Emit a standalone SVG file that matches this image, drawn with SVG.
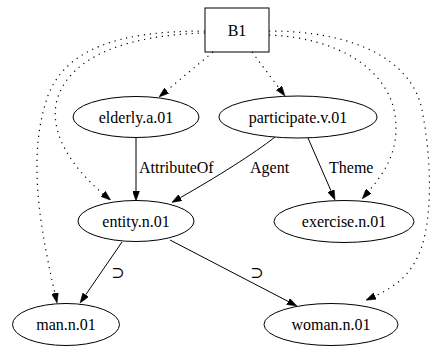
<svg xmlns="http://www.w3.org/2000/svg" width="430" height="347" viewBox="0 0 430 347">
  <style>
    text { font-family: "Liberation Serif", "Times New Roman", "DejaVu Serif", serif; font-size: 16px; fill: #000; }
    .node { fill: none; stroke: #000; stroke-width: 1; }
    .edge { fill: none; stroke: #000; stroke-width: 1; }
    .dotted { stroke-dasharray: 1.2 4.8; stroke-width: 1.2; }
    .mid { text-anchor: middle; }
    .sym { font-family: "DejaVu Serif", serif; font-size: 16px; }
  </style>
  <defs>
    <marker id="arrow" viewBox="0 0 10 7" refX="0" refY="3.5" markerWidth="10" markerHeight="7" markerUnits="userSpaceOnUse" orient="auto">
      <path d="M0,0 L10,3.5 L0,7 z" fill="#000" stroke="#000" stroke-width="0.5"/>
    </marker>
  </defs>
  <rect width="430" height="347" fill="#fff"/>

  <g id="edges">
    <!-- dotted edges out of B1 -->
    <path class="edge dotted" d="M213,52 L166.7,90.6" marker-end="url(#arrow)"/>
    <path class="edge dotted" d="M252,52 L279,88" marker-end="url(#arrow)"/>
    <path class="edge dotted" d="M205,33 C130,35 70,55 57,100 C48,135 75,170 103.1,193.8" marker-end="url(#arrow)"/>
    <path class="edge dotted" d="M205,31 C120,31 60,48 45,105 C27,165 43,240 54.9,293.2" marker-end="url(#arrow)"/>
    <path class="edge dotted" d="M269,35 C340,38 388,70 395,115 C400,150 385,172 368.7,191.2" marker-end="url(#arrow)"/>
    <path class="edge dotted" d="M269,31 C355,31 412,60 422,110 C432,160 434,230 415,262 C405,280 390,289 375,296" marker-end="url(#arrow)"/>

    <!-- semantic role edges -->
    <path class="edge" d="M136,138 L136,191" marker-end="url(#arrow)"/>
    <text x="139" y="173">AttributeOf</text>
    <path class="edge" d="M275,137 C255,153 215,178 180.4,197.6" marker-end="url(#arrow)"/>
    <text x="250" y="173">Agent</text>
    <path class="edge" d="M308,138 L331,190.8" marker-end="url(#arrow)"/>
    <text x="329" y="173">Theme</text>

    <!-- hyponym edges -->
    <path class="edge" d="M122,242 L85.7,294.8" marker-end="url(#arrow)"/>
    <text class="mid sym" x="118" y="278">⊃</text>
    <path class="edge" d="M170,240 L288.1,301.4" marker-end="url(#arrow)"/>
    <text class="mid sym" x="257" y="278">⊃</text>
  </g>

  <g id="B1">
    <rect class="node" x="205" y="8" width="64" height="44"/>
    <text class="mid" x="237" y="35.5">B1</text>
  </g>
  <g id="elderly.a.01">
    <ellipse class="node" cx="136" cy="117" rx="63" ry="20.5"/>
    <text class="mid" x="136" y="122.5">elderly.a.01</text>
  </g>
  <g id="participate.v.01">
    <ellipse class="node" cx="298" cy="117" rx="79" ry="21"/>
    <text class="mid" x="298" y="122.5">participate.v.01</text>
  </g>
  <g id="entity.n.01">
    <ellipse class="node" cx="136" cy="221" rx="58" ry="20.5"/>
    <text class="mid" x="136" y="226.5">entity.n.01</text>
  </g>
  <g id="exercise.n.01">
    <ellipse class="node" cx="344" cy="221.5" rx="70" ry="21"/>
    <text class="mid" x="344" y="227">exercise.n.01</text>
  </g>
  <g id="man.n.01">
    <ellipse class="node" cx="66" cy="324.5" rx="53.5" ry="21"/>
    <text class="mid" x="66" y="330">man.n.01</text>
  </g>
  <g id="woman.n.01">
    <ellipse class="node" cx="331" cy="324.5" rx="67" ry="21"/>
    <text class="mid" x="331" y="330">woman.n.01</text>
  </g>
</svg>
